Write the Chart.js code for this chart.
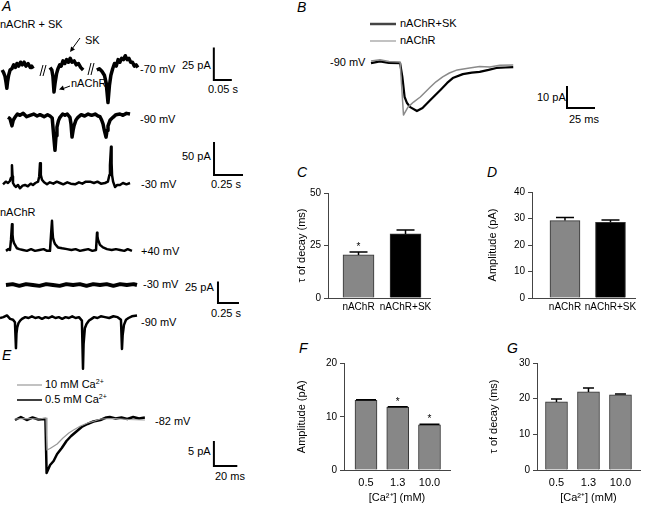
<!DOCTYPE html>
<html>
<head>
<meta charset="utf-8">
<script src="https://cdn.jsdelivr.net/npm/chart.js@4.4.0/dist/chart.umd.min.js"></script>
<style>
  body { margin: 0; background: #fff; }
  #fig { position: relative; width: 645px; height: 505px; overflow: hidden;
         font-family: 'Liberation Sans', Arial, sans-serif; font-size: 11px; color: #000; }
  #fig canvas { position: absolute; }
  #fig svg { position: absolute; left: 0; top: 0; }
  .t { position: absolute; line-height: 13px; white-space: nowrap; }
  .p { position: absolute; font-size: 14px; font-style: italic; line-height: 16px; }
  sup { font-size: 7px; vertical-align: top; line-height: 7px; }
</style>
</head>
<body>
<div id="fig">
  <svg width="645" height="505">
    <!-- arrows + break marks in A -->
    <g stroke="#000" stroke-width="1" fill="none">
      <line x1="80" y1="38" x2="72" y2="49"/>
      <line x1="70" y1="86" x2="62" y2="89"/>
      <line x1="40" y1="76" x2="43" y2="65"/><line x1="43" y1="76" x2="46" y2="65"/>
      <line x1="88" y1="75" x2="91" y2="63"/><line x1="91" y1="75" x2="94" y2="63"/>
    </g>
    <polygon points="70,52 75,49.6 71.1,46.5" fill="#000"/>
    <polygon points="59,89.5 64.5,90.2 62.9,85.5" fill="#000"/>
    <!-- legend lines -->
    <line x1="370" y1="24" x2="396" y2="24" stroke="#444" stroke-width="2.5"/>
    <line x1="370" y1="41" x2="396" y2="41" stroke="#999" stroke-width="1.2"/>
    <line x1="17" y1="385" x2="42" y2="385" stroke="#999" stroke-width="1.2"/>
    <line x1="17" y1="400" x2="42" y2="400" stroke="#000" stroke-width="1.5"/>
  </svg>

  <div class="p" style="left:2px;top:-2px">A</div>
  <div class="t" style="left:0px;top:18px">nAChR + SK</div>
  <div class="t" style="left:85px;top:34px">SK</div>
  <div class="t" style="left:71px;top:77px">nAChR</div>
  <div class="t" style="left:140px;top:63px">-70 mV</div>
  <div class="t" style="left:182px;top:59px">25 pA</div>
  <div class="t" style="left:208px;top:83px">0.05 s</div>
  <div class="t" style="left:140px;top:113px">-90 mV</div>
  <div class="t" style="left:182px;top:150px">50 pA</div>
  <div class="t" style="left:211px;top:178px">0.25 s</div>
  <div class="t" style="left:141px;top:178px">-30 mV</div>
  <div class="t" style="left:0px;top:206px">nAChR</div>
  <div class="t" style="left:141px;top:245px">+40 mV</div>
  <div class="t" style="left:143px;top:278px">-30 mV</div>
  <div class="t" style="left:185px;top:281px">25 pA</div>
  <div class="t" style="left:211px;top:307px">0.25 s</div>
  <div class="t" style="left:141px;top:316px">-90 mV</div>

  <div class="p" style="left:2px;top:347px">E</div>
  <div class="t" style="left:45px;top:378px">10 mM Ca<sup>2+</sup></div>
  <div class="t" style="left:45px;top:393px">0.5 mM Ca<sup>2+</sup></div>
  <div class="t" style="left:155px;top:415px">-82 mV</div>
  <div class="t" style="left:188px;top:445px">5 pA</div>
  <div class="t" style="left:215px;top:470px">20 ms</div>

  <div class="p" style="left:297px;top:-1px">B</div>
  <div class="t" style="left:400px;top:17px">nAChR+SK</div>
  <div class="t" style="left:400px;top:34px">nAChR</div>
  <div class="t" style="left:330px;top:56px">-90 mV</div>
  <div class="t" style="left:537px;top:91px">10 pA</div>
  <div class="t" style="left:569px;top:113px">25 ms</div>

  <div class="p" style="left:297px;top:164px">C</div>
  <div class="p" style="left:487px;top:164px">D</div>
  <div class="p" style="left:299px;top:340px">F</div>
  <div class="p" style="left:507px;top:340px">G</div>
</div>

<script>
// ---- traces, [time (ms), current (pA)] ----
const trace70mV = [
  [6,0],[10,-2],[14,-5],[17,-10],[19,-14],[21,-9],[24,-4],[28,0],[33,1],[38,4],[43,2],[47,5],[52,3],[57,6],
  [62,4],[67,6],[72,3],[78,5],[84,2],[88,3],[92,1],[115,null],
  [139,2],[144,0],[147,-5],[150,-17],[153,-10],[157,-3],[161,1],[166,4],[170,3],[175,7],[180,5],[185,8],
  [190,6],[195,9],[200,6],[206,7],[212,4],[218,5],[224,2],[231,0],[250,null],
  [269,0],[276,1],[283,-1],[290,-4],[295,-10],[300,-25],[304,-12],[308,-4],[313,1],[318,5],[323,3],[328,8],
  [333,6],[338,9],[343,8],[348,11],[353,8],[358,9],[363,6],[368,6],[373,3],[378,4],[383,2]
];
const trace90mV = [
  [69,-2],[86,-4],[103,-15],[115,-6],[129,-2],[150,3],[172,1],[200,4],[230,-1],[259,1],[290,3],[320,0],
  [345,2],[380,-1],[410,2],[431,0],[450,-3],[466,-36],[474,-52],[483,-30],[491,-17],[504,-7],[517,-2],
  [540,3],[560,1],[580,3],[603,-2],[612,-12],[621,-32],[630,-22],[638,-15],[655,-6],[672,-2],[700,2],
  [730,0],[760,3],[790,1],[820,3],[845,0],[862,-1],[876,-6],[888,-12],[900,-22],[914,-32],[923,-22],
  [931,-15],[950,-6],[974,-2],[1000,2],[1034,3],[1060,1],[1090,4],[1121,3]
];
const trace30mV = [
  [26,-2],[50,2],[69,0],[85,3],[95,8],[103,27],[108,10],[112,0],[125,-4],[138,-6],[155,-3],[172,-8],
  [195,-4],[216,-3],[240,-5],[265,-1],[284,-3],[305,0],[328,2],[338,10],[345,30],[352,12],[362,5],[380,1],
  [405,-2],[430,1],[460,-1],[490,2],[517,0],[545,-2],[580,1],[610,-1],[647,-2],[680,1],[710,-1],[740,2],
  [776,2],[810,0],[840,2],[870,-1],[905,0],[930,2],[943,12],[948,27],[957,55],[962,30],[966,12],[975,2],
  [991,-6],[1010,-3],[1034,-3],[1060,0],[1090,-2],[1121,0]
];
const nachr40mV = [
  [71,-1],[100,1],[119,0],[131,12],[143,30],[149,18],[155,12],[167,8],[179,6],[202,2],[230,1],[274,0],
  [320,-1],[370,1],[417,-1],[470,0],[520,1],[560,-1],[595,-1],[607,17],[619,34],[625,22],[631,14],[643,10],
  [655,7],[690,3],[740,2],[798,1],[850,0],[900,1],[952,-1],[1000,0],[1050,1],[1100,-1],[1143,0],[1155,20],
  [1160,16],[1167,12],[1190,6],[1226,3],[1274,1],[1330,0],[1380,1],[1429,0],[1480,-1],[1520,1],[1571,-1]
];
const nachr30mV = [
  [71,0],[150,1],[230,-1],[310,1],[390,0],[470,-1],[550,1],[630,0],[710,-1],[790,1],[870,0],[950,1],
  [1030,-1],[1110,1],[1190,0],[1270,1],[1350,-1],[1430,1],[1510,0],[1590,1],[1631,0]
];
const nachr90mV = [
  [0,0],[40,1],[83,3],[120,-1],[155,-2],[178,-5],[190,-35],[196,-18],[205,-11],[220,-6],[240,-3],[262,-1],
  [300,1],[340,0],[380,2],[420,0],[460,1],[500,-1],[540,1],[580,0],[620,2],[660,0],[700,1],[740,-1],
  [780,1],[820,0],[860,2],[900,0],[940,1],[975,-3],[988,-59],[995,-30],[1010,-12],[1030,-7],[1060,-3],
  [1090,-1],[1120,1],[1160,0],[1200,2],[1250,1],[1300,0],[1350,2],[1400,1],[1440,-2],[1452,-36],[1460,-20],
  [1476,-8],[1500,-2],[1530,0],[1570,2],[1631,3]
];
const bNachrSK = [
  [0,-0.5],[8,0.3],[16,-0.4],[26,-0.5],[28,-6.8],[30,-15.9],[32,-18.5],[35,-20.5],[41,-22.3],[46,-20.9],
  [53,-17.3],[62,-12.7],[68,-9.5],[73,-7.3],[82,-5.5],[90,-4.8],[97,-4.5],[105,-3.6],[112,-2.7],[120,-2.5],[127,-2.3]
];
const bNachr = [
  [0,0.5],[8,1],[16,0.2],[26,0],[29,-24.1],[33,-20.5],[38,-18.2],[44,-15.9],[53,-11.4],[58,-9],[64,-6.8],
  [70,-5],[77,-3.6],[88,-2.7],[97,-2],[106,-2.3],[115,-1.5],[127,-1.4]
];
const eLowCa = [
  [0,-0.2],[5,0.4],[10,-0.2],[15,0.3],[20,-0.1],[26,0],[27,-10.8],[30,-9.2],[33,-8.4],[36,-7],[40,-5.8],
  [44,-4.4],[48,-3.4],[53,-2.4],[57,-1.6],[62,-1.0],[67,-0.5],[73,-0.2],[78,0.3],[81,0.4],[86,0.1],
  [91,0.3],[96,0],[101,0.4],[106,0.1],[111,0.3]
];
const eHighCa = [
  [0,0],[10,0.1],[20,0],[26.5,0.2],[27.3,-6.2],[30,-5.9],[32,-5.6],[36,-5],[41,-3.8],[46,-2.8],[50,-2.2],
  [56,-1.4],[62,-0.8],[68,-0.4],[73,0],[85,0.1],[97,-0.1],[111,-0.2]
];

// ---- bar panels ----
const recLabels = ['nAChR', 'nAChR+SK'];
const cDecay = [20.5, 30.5];
const cDecayErr = [1.4, 1.9];
const dAmp = [29.2, 28.6];
const dAmpErr = [1.2, 0.8];
const caLabels = ['0.5', '1.3', '10.0'];
const fAmp = [13.1, 11.8, 8.5];
const fAmpErr = [0.1, 0.1, 0.1];
const gDecay = [19.1, 21.9, 21.1];
const gDecayErr = [0.8, 1.1, 0.2];

const FONT = "'Liberation Sans', Arial, sans-serif";
Chart.defaults.font.family = FONT;
Chart.defaults.font.size = 11;
Chart.defaults.color = '#000';
const GRAY = '#878787';

function makeCanvas(l, t, w, h) {
  const c = document.createElement('canvas');
  c.width = w; c.height = h;
  c.style.left = l + 'px'; c.style.top = t + 'px';
  c.style.width = w + 'px'; c.style.height = h + 'px';
  document.getElementById('fig').appendChild(c);
  return c;
}

// L-shaped scale bar: [x, y, dx, dy] in data units
function scaleBar(b) {
  return {
    id: 'scalebar',
    afterDatasetsDraw(chart) {
      const { ctx, scales: { x, y } } = chart;
      const x0 = x.getPixelForValue(b[0]), y0 = y.getPixelForValue(b[1]);
      const x1 = x.getPixelForValue(b[0] + b[2]), y1 = y.getPixelForValue(b[1] + b[3]);
      ctx.save();
      ctx.strokeStyle = '#000';
      ctx.lineWidth = 2;
      ctx.beginPath();
      ctx.moveTo(x0, y1); ctx.lineTo(x0, y0); ctx.lineTo(x1, y0);
      ctx.stroke();
      ctx.restore();
    }
  };
}

function traceChart(box, xr, yr, series, bar) {
  new Chart(makeCanvas(...box), {
    type: 'line',
    data: {
      datasets: series.map(s => ({
        data: s.pts.map(p => ({ x: p[0], y: p[1] })),
        borderColor: s.color,
        borderWidth: s.w,
        pointRadius: 0,
        tension: 0,
        borderJoinStyle: 'round',
        spanGaps: false
      }))
    },
    options: {
      responsive: false, animation: false, events: [],
      layout: { padding: 0 },
      plugins: { legend: { display: false }, tooltip: { enabled: false } },
      scales: {
        x: { type: 'linear', display: false, min: xr[0], max: xr[1] },
        y: { display: false, min: yr[0], max: yr[1] }
      }
    },
    plugins: bar ? [scaleBar(bar)] : []
  });
}

// A: nAChR + SK
traceChart([0, 40, 245, 70], [0, 680.6], [-30.77, 23.08],
  [{ pts: trace70mV, color: '#000', w: 3.5 }], [594, -7.7, 50, 25]);
traceChart([0, 100, 250, 80], [0, 2155.2], [-96.97, 24.24],
  [{ pts: trace90mV, color: '#000', w: 3.5 }], [1845, -89.4, 250, 50]);
traceChart([0, 140, 180, 60], [0, 1551.7], [-25.76, 65.15],
  [{ pts: trace30mV, color: '#000', w: 2.5 }]);
// A: nAChR
traceChart([0, 210, 180, 50], [0, 2142.9], [-11.63, 46.51],
  [{ pts: nachr40mV, color: '#000', w: 2.5 }]);
traceChart([0, 270, 250, 40], [0, 2976.2], [-29.07, 17.44],
  [{ pts: nachr30mV, color: '#000', w: 4 }], [2595, -20.9, 250, 25]);
traceChart([0, 300, 150, 78], [0, 1785.7], [-69.77, 20.93],
  [{ pts: nachr90mV, color: '#000', w: 2.5 }]);
// B
traceChart([360, 45, 250, 75], [-9.82, 213.39], [-26.36, 7.73],
  [{ pts: bNachr, color: '#8a8a8a', w: 1.5 }, { pts: bNachrSK, color: '#000', w: 2.2 }], [175, -20.9, 25, 10]);
// E
traceChart([0, 405, 250, 75], [-12.82, 200.85], [-12.2, 2.8],
  [{ pts: eHighCa, color: '#999', w: 1.2 }, { pts: eLowCa, color: '#000', w: 2.5 }], [170, -9.4, 20, 5]);

function errorBars(cfg) {
  return {
    id: 'errorbars',
    afterDatasetsDraw(chart) {
      const ctx = chart.ctx, y = chart.scales.y;
      chart.getDatasetMeta(0).data.forEach((bar, i) => {
        const top = y.getPixelForValue(cfg.means[i] + cfg.errs[i]);
        ctx.save();
        ctx.strokeStyle = '#000';
        ctx.lineWidth = 1.5;
        ctx.beginPath();
        ctx.moveTo(bar.x, bar.y); ctx.lineTo(bar.x, top);
        ctx.moveTo(bar.x - cfg.capW / 2, top); ctx.lineTo(bar.x + cfg.capW / 2, top);
        ctx.stroke();
        if (cfg.stars && cfg.stars[i]) {
          ctx.fillStyle = '#000';
          ctx.font = '10px ' + FONT;
          ctx.textAlign = 'center';
          ctx.textBaseline = 'alphabetic';
          ctx.fillText('*', bar.x, top - 2);
        }
        ctx.restore();
      });
    }
  };
}

function barChart(box, cfg) {
  new Chart(makeCanvas(...box), {
    type: 'bar',
    data: {
      datasets: [{
        data: cfg.means.map((v, i) => ({ x: i + 1, y: v })),
        backgroundColor: cfg.colors,
        borderColor: '#333',
        borderWidth: 1,
        barThickness: cfg.barW
      }]
    },
    options: {
      responsive: false, animation: false, events: [],
      layout: { padding: { top: cfg.padTop, right: cfg.padRight, left: 0, bottom: 0 } },
      plugins: { legend: { display: false }, tooltip: { enabled: false } },
      scales: {
        x: {
          type: 'linear', min: cfg.xr[0], max: cfg.xr[1], offset: false, bounds: 'data',
          afterBuildTicks: s => { s.ticks = cfg.labels.map((_, i) => ({ value: i + 1 })); },
          afterFit: s => { s.height = cfg.xH; },
          grid: { display: false, drawTicks: false },
          border: { display: true, color: '#444', width: 1 },
          ticks: { callback: v => cfg.labels[v - 1], padding: cfg.xPad, maxRotation: 0, autoSkip: false,
                   color: '#000', font: { size: cfg.xFont } },
          title: cfg.xTitle
            ? { display: true, text: cfg.xTitle, padding: { top: 0, bottom: 0 }, color: '#000' }
            : { display: false }
        },
        y: {
          min: 0, max: cfg.yMax,
          afterFit: s => { s.width = cfg.yW; },
          ticks: { stepSize: cfg.step, padding: 3, color: '#000', font: { size: 10 } },
          grid: { display: true, drawOnChartArea: false, tickLength: 4, color: '#444' },
          border: { color: '#444', width: 1 },
          title: { display: true, text: cfg.yTitle, padding: { top: cfg.yTitlePad, bottom: 0 }, color: '#000' }
        }
      }
    },
    plugins: [errorBars(cfg)]
  });
}

barChart([290, 180, 150, 138], {
  labels: recLabels, means: cDecay, errs: cDecayErr, colors: [GRAY, '#000'], stars: [true, false],
  xr: [0.351, 2.521], barW: 31, capW: 18, yMax: 50, step: 25, yW: 38, yTitlePad: 5.4,
  yTitle: 'τ of decay (ms)', padTop: 13, padRight: 10, xH: 20, xPad: 3, xFont: 10
});
barChart([485, 180, 158, 138], {
  labels: recLabels, means: dAmp, errs: dAmpErr, colors: [GRAY, '#000'],
  xr: [0.275, 2.539], barW: 30, capW: 18, yMax: 40, step: 10, yW: 47, yTitlePad: 1.4,
  yTitle: 'Amplitude (pA)', padTop: 12, padRight: 8, xH: 20, xPad: 3, xFont: 10
});
barChart([290, 350, 168, 155], {
  labels: caLabels, means: fAmp, errs: fAmpErr, colors: [GRAY, GRAY, GRAY], stars: [false, true, true],
  xr: [0.307, 3.646], barW: 22, capW: 20, yMax: 20, step: 10, yW: 54, yTitlePad: 5.4,
  yTitle: 'Amplitude (pA)', xTitle: '[Ca²⁺] (mM)', padTop: 13.5, padRight: 8, xH: 35, xPad: 6, xFont: 11
});
barChart([485, 350, 159, 155], {
  labels: caLabels, means: gDecay, errs: gDecayErr, colors: [GRAY, GRAY, GRAY],
  xr: [0.391, 3.61], barW: 22, capW: 11, yMax: 30, step: 10, yW: 52, yTitlePad: 2.4,
  yTitle: 'τ of decay (ms)', xTitle: '[Ca²⁺] (mM)', padTop: 13, padRight: 4, xH: 35, xPad: 6, xFont: 11
});
</script>
</body>
</html>
